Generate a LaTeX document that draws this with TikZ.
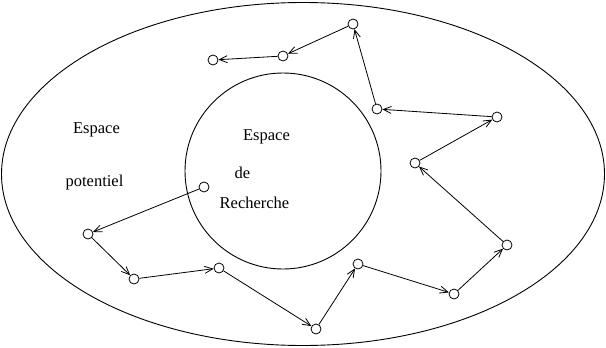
\documentclass[tikz,border=0pt]{standalone}
\usepackage{fontspec}
\setmainfont{Liberation Serif}
\usetikzlibrary{arrows.meta}
\tikzset{pt/.style={draw,circle,inner sep=0pt,minimum size=10pt,line width=.8pt},
 flow/.style={-{Straight Barb[length=8pt,width=7pt]},line width=.8pt},
 wire/.style={line width=.9pt},txt/.style={anchor=base,inner sep=0pt,font=\fontsize{16.5}{20}\selectfont}}
\begin{document}
\begin{tikzpicture}[x=1pt,y=-1pt]
\useasboundingbox(0,0)rectangle(606,348);
\draw[wire](303,174)ellipse[x radius=301.5pt,y radius=171.5pt];
\draw[wire](283,171)circle[radius=98pt];
\node[txt](e1) at(96.5,133){Espace};
\node[txt](e2) at(94.5,186){potentiel};
\node[txt](r1) at(266.5,140){Espace};
\node[txt](r2) at(242.5,178){de};
\node[txt](r3) at(254.5,208){Recherche};
% the walk
\node[pt](p1) at(204,187){};
\node[pt](p2) at(88,234){};
\node[pt](p3) at(134,279){};
\node[pt](p4) at(219,268){};
\node[pt](p5) at(316,329){};
\node[pt](p6) at(358,264){};
\node[pt](p7) at(454,294){};
\node[pt](p8) at(507,245){};
\node[pt](p9) at(415,163){};
\node[pt](p10) at(497,117){};
\node[pt](p11) at(377,109){};
\node[pt](p12) at(353,24){};
\node[pt](p13) at(283,56){};
\node[pt](p14) at(213,60){};
\foreach \i/\j in {1/2,2/3,3/4,4/5,5/6,6/7,7/8,8/9,9/10,10/11,11/12,12/13,13/14}
 \draw[flow](p\i)--(p\j);
\end{tikzpicture}
\end{document}
